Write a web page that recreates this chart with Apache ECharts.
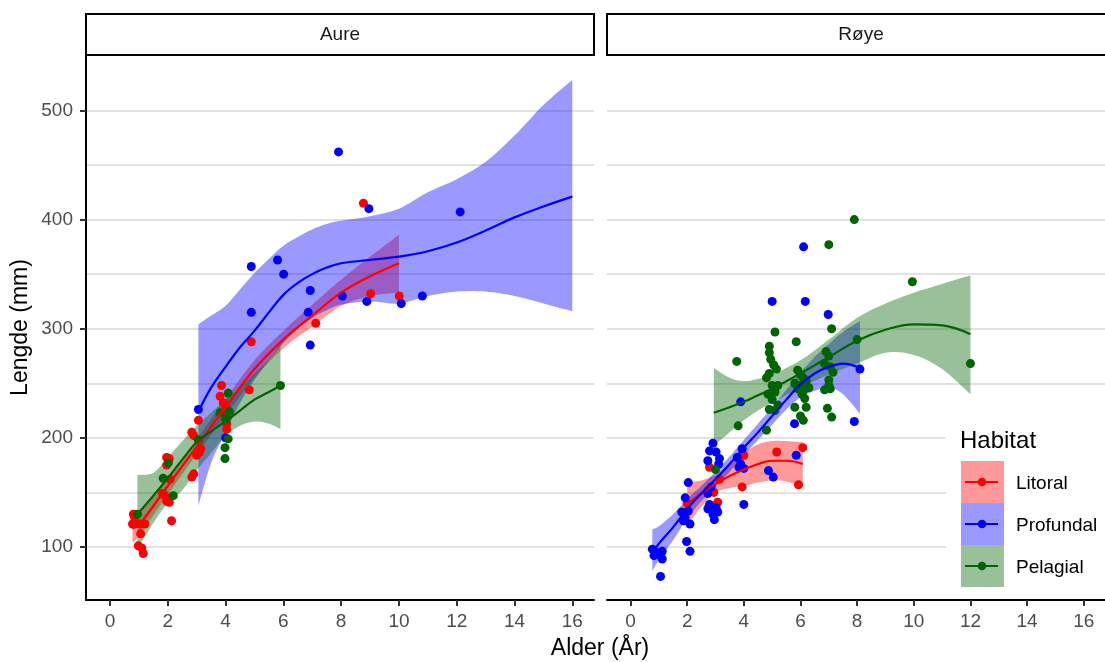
<!DOCTYPE html>
<html><head><meta charset="utf-8">
<script src="https://cdn.jsdelivr.net/npm/echarts@6/dist/echarts.min.js"></script>
<style>html,body{margin:0;padding:0;background:#fff}#c{width:1105px;height:662px}</style>
</head><body><div id="c"></div>
<script>
const panels = ['Aure', 'Røye'];
const habitats = ['Litoral', 'Profundal', 'Pelagial'];
const habitatColors = ['#FF0000', '#0000FF', '#006400'];
const xTicks = [0, 2, 4, 6, 8, 10, 12, 14, 16];
const yTicks = [100, 200, 300, 400, 500];
const yGridLines = [100, 150, 200, 250, 300, 350, 400, 450, 500];

// points [alder, lengde]
const aureLitoral = [[0.81,130],[0.85,127],[0.78,121],[1.04,121],[1.21,121],[1.06,112],[0.98,101],[1.1,99],[1.15,94],
  [1.96,182],[2.05,181],[1.96,175],[2.08,162],[1.82,149],[1.9,147],[1.96,142],[2.05,141],[2.13,124],
  [2.83,205],[2.9,202],[3.06,216],[3.14,190],[3.0,184],[3.1,187],[2.9,167],[2.83,164],
  [3.86,248],[3.81,238],[3.92,232],[4.0,230],[4.04,225],[4.04,219],[4.04,213],[4.04,208],
  [4.82,244],[4.89,288],[7.12,305],[8.77,415],[9.02,332],[10.01,330]];
const aureProfundal = [[3.06,226],[4.0,200],[4.89,357],[5.8,363],[6.01,350],[6.93,335],[4.89,315],[6.86,315],
  [6.93,285],[7.91,462],[8.04,330],[8.96,410],[8.89,325],[10.08,323],[10.81,330],[12.12,407]];
const aurePelagial = [[0.95,130],[1.84,163],[2.02,177],[2.19,147],[3.06,198],[3.81,223],[4.13,224],[4.01,217],
  [4.09,241],[4.09,199],[3.98,191],[3.98,181],[5.9,248]];
const royeLitoral = [[2.0,140],[2.79,173],[2.73,152],[2.94,150],[3.14,162],[3.08,141],[3.94,155],[4.0,184],
  [5.16,187],[5.93,157],[6.08,191]];
const royeProfundal = [[0.77,98],[0.94,95],[1.12,96],[0.83,92],[1.12,89],[1.0,93],[1.06,73],[1.98,105],[2.1,96],
  [1.81,132],[2.04,133],[1.93,127],[2.1,121],[1.87,124],[1.93,145],[2.04,159],[2.79,139],[3.02,136],[2.91,130],
  [3.08,132],[2.96,125],[2.73,135],[2.85,155],[2.73,149],[2.91,195],[2.79,188],[3.02,187],[2.73,179],[3.14,181],
  [3.11,176],[3.94,190],[3.77,182],[3.83,173],[4.0,172],[3.89,176],[3.89,233],[4.0,139],[4.87,170],[5.04,164],
  [5.0,325],[5.79,213],[5.85,184],[6.11,375],[6.17,325],[6.98,313],[7.9,215],[8.1,263]];
const royePelagial = [[3.0,171],[3.75,270],[3.8,211],[4.8,207],[4.8,255],[4.9,259],[4.9,284],[4.9,278],[4.95,272],
  [5.05,267],[5.15,263],[5.1,297],[5.0,248],[5.1,242],[4.85,240],[5.0,235],[5.2,230],[4.9,226],[5.1,225],[5.2,248],
  [5.85,288],[5.9,262],[6.0,258],[6.1,255],[5.8,250],[6.2,252],[6.0,248],[5.9,245],[6.1,243],[6.3,246],[6.05,240],
  [6.15,236],[5.8,228],[6.2,228],[6.0,220],[6.1,216],[6.9,279],[7.0,275],[6.85,268],[7.05,265],[7.15,260],
  [7.0,253],[7.0,248],[6.85,244],[7.05,245],[6.95,227],[7.1,219],[7.1,300],[7.0,377],[7.9,400],[8.0,290],
  [9.95,343],[12.0,268]];

// loess fits [alder, fit, lower, upper]
const aureLitoralFit = [[0.78,117,104,130],[1,120,110,131],[2,156,148,164],[3,192,185,199],[4,228,220,236],
  [5,263,255,271],[6,290,282,298],[7,312,302,322],[8,333,321,345],[9,348,330,366],[10,360,333,386]];
const aureProfundalFit = [[3.06,224,138,304],[3.5,246,177,312],[4,265,205,321],[4.5,283,232,336],[5,298,253,351],
  [5.5,315,271,364],[6,331,287,376],[6.5,342,300,384],[7,350,310,391],[7.5,356,317,396],[8,360,322,399],
  [9,363,325,403],[10,366,323,410],[11,371,330,425],[12,379,334,437],[13,390,334,453],[14,402,330,477],
  [15,412,323,505],[16,421,316,528]];
const aurePelagialFit = [[0.95,130,98,166],[1.5,147,122,168],[2,163,140,182],[2.5,180,152,197],[3,196,170,211],
  [3.5,206,186,223],[4,215,202,235],[4.5,225,211,246],[5,235,215,259],[5.5,242,213,272],[5.9,248,208,286]];
const royeLitoralFit = [[2,139,119,159],[2.5,149,137,161],[3,158,150,166],[3.5,165,154,175],[4,171,156,186],
  [4.5,176,159,194],[5,179,161,197],[5.5,179,160,197],[6.08,176,155,196]];
const royeProfundalFit = [[0.77,95,78,116],[1,103,88,119],[1.5,118,106,130],[2,135,126,144],[2.5,149,142,156],
  [3,162,155,169],[3.5,176,169,183],[4,191,184,198],[4.5,205,198,213],[5,220,212,228],[5.5,235,226,244],
  [6,249,237,260],[6.5,259,243,274],[7,265,246,286],[7.5,268,240,297],[8.1,264,222,307]];
const royePelagialFit = [[2.94,223,193,264],[3.5,228,205,255],[4,233,216,252],[4.5,239,225,254],[5,245,232,258],
  [6,259,246,271],[7,274,258,290],[8,289,268,310],[9,299,278,323],[10,304,276,333],[11,303,263,341],[12,295,240,349]];

const pointSets = [[aureLitoral, aureProfundal, aurePelagial], [royeLitoral, royeProfundal, royePelagial]];
const fitSets = [[aureLitoralFit, aureProfundalFit, aurePelagialFit], [royeLitoralFit, royeProfundalFit, royePelagialFit]];

const FONT = '"Liberation Sans", Arial, sans-serif';
const X_MIN = -0.83, X_MAX = 16.75, Y_MIN = 51.4, Y_MAX = 550.8;

const chart = echarts.init(document.getElementById('c'), null, {renderer: 'canvas'});

// Catmull-Rom subdivision of a pixel polyline (drawing only)
function smoothPath(pts) {
  const out = [];
  for (let i = 0; i < pts.length - 1; i++) {
    const p0 = pts[Math.max(0, i - 1)], p1 = pts[i], p2 = pts[i + 1], p3 = pts[Math.min(pts.length - 1, i + 2)];
    for (let s = 0; s < 8; s++) {
      const t = s / 8, t2 = t * t, t3 = t2 * t;
      out.push([0, 1].map(k => 0.5 * ((2 * p1[k]) + (-p0[k] + p2[k]) * t +
        (2 * p0[k] - 5 * p1[k] + 4 * p2[k] - p3[k]) * t2 + (-p0[k] + 3 * p1[k] - 3 * p2[k] + p3[k]) * t3)));
    }
  }
  out.push(pts[pts.length - 1]);
  return out;
}

function ribbon(fit, color, gi) {
  return {
    type: 'custom', xAxisIndex: gi, yAxisIndex: gi, z: 1, silent: true, animation: false,
    data: [[fit[0][0], fit[0][1]]],
    renderItem: function (params, api) {
      const up = smoothPath(fit.map(d => api.coord([d[0], d[3]])));
      const lo = smoothPath(fit.map(d => api.coord([d[0], d[2]]))).reverse();
      return {type: 'polygon', shape: {points: up.concat(lo)}, style: {fill: color, opacity: 0.4}};
    }
  };
}

const series = [];
for (let gi = 0; gi < 2; gi++) {
  series.push({
    type: 'scatter', xAxisIndex: gi, yAxisIndex: gi, data: [], silent: true,
    markLine: {
      z: 0, silent: true, animation: false, symbol: ['none', 'none'], label: {show: false},
      lineStyle: {color: '#d9d9d9', width: 1.5, type: 'solid'},
      data: yGridLines.map(v => ({yAxis: v}))
    }
  });
  for (let h = 0; h < 3; h++) series.push(ribbon(fitSets[gi][h], habitatColors[h], gi));
  for (let h = 0; h < 3; h++) series.push({
    type: 'scatter', xAxisIndex: gi, yAxisIndex: gi, z: 2, symbolSize: 9, animation: false,
    itemStyle: {color: habitatColors[h], opacity: 1}, data: pointSets[gi][h]
  });
  for (let h = 0; h < 3; h++) series.push({
    type: 'line', xAxisIndex: gi, yAxisIndex: gi, z: 3, smooth: 0.4, showSymbol: false, animation: false,
    lineStyle: {color: habitatColors[h], width: 2.2}, data: fitSets[gi][h].map(d => [d[0], d[1]])
  });
}

function xAxis(gi) {
  return {
    type: 'value', gridIndex: gi, min: X_MIN, max: X_MAX,
    axisLine: {show: true, onZero: false, lineStyle: {color: '#000', width: 2}},
    axisTick: {show: true, customValues: xTicks, length: 6, lineStyle: {color: '#333', width: 2}},
    axisLabel: {customValues: xTicks, fontSize: 19, color: '#4d4d4d', margin: 12, fontFamily: FONT},
    splitLine: {show: false}
  };
}
function yAxis(gi) {
  const shown = gi === 0;
  return {
    type: 'value', gridIndex: gi, min: Y_MIN, max: Y_MAX,
    axisLine: {show: shown, onZero: false, lineStyle: {color: '#000', width: 2}},
    axisTick: {show: shown, customValues: yTicks, length: 6, lineStyle: {color: '#333', width: 2}},
    axisLabel: {show: shown, customValues: yTicks, fontSize: 19, color: '#4d4d4d', margin: 13, fontFamily: FONT},
    splitLine: {show: false},
    name: shown ? 'Lengde (mm)' : '', nameLocation: 'middle', nameGap: 54,
    nameTextStyle: {fontSize: 23, color: '#000', fontFamily: FONT}
  };
}

const strips = panels.map((p, i) => {
  const x = i === 0 ? 86 : 607, w = i === 0 ? 508 : 510;
  return [
    {type: 'rect', z: 50, shape: {x: x, y: 14, width: w, height: 41}, style: {fill: '#fff', stroke: '#000', lineWidth: 2}},
    {type: 'text', z: 51, x: x + 254, y: 35, style: {text: p, fill: '#1a1a1a', font: '19px ' + FONT, textAlign: 'center', textVerticalAlign: 'middle'}}
  ];
}).flat();

const legendEls = [
  {type: 'rect', z: 60, shape: {x: 946, y: 418, width: 170, height: 180}, style: {fill: '#fff'}},
  {type: 'text', z: 61, x: 960, y: 441, style: {text: 'Habitat', fill: '#000', font: '24px ' + FONT, textVerticalAlign: 'middle'}}
];
habitats.forEach((h, i) => {
  const y0 = 461 + i * 42;
  legendEls.push(
    {type: 'rect', z: 61, shape: {x: 961, y: y0, width: 43, height: 42}, style: {fill: habitatColors[i], opacity: 0.4}},
    {type: 'line', z: 62, shape: {x1: 965, y1: y0 + 21, x2: 998, y2: y0 + 21}, style: {stroke: habitatColors[i], lineWidth: 2.2}},
    {type: 'circle', z: 63, shape: {cx: 982, cy: y0 + 21, r: 4.3}, style: {fill: habitatColors[i]}},
    {type: 'text', z: 62, x: 1016, y: y0 + 23, style: {text: h, fill: '#000', font: '19px ' + FONT, textVerticalAlign: 'middle'}}
  );
});

chart.setOption({
  animation: false,
  backgroundColor: '#fff',
  grid: [
    {left: 86, top: 55, width: 508, height: 545},
    {left: 607, top: 55, width: 508, height: 545}
  ],
  xAxis: [xAxis(0), xAxis(1)],
  yAxis: [yAxis(0), yAxis(1)],
  series: series,
  graphic: {elements: strips.concat(legendEls).concat([
    {type: 'text', z: 50, x: 600, y: 649, style: {text: 'Alder (År)', fill: '#000', font: '23px ' + FONT, textAlign: 'center', textVerticalAlign: 'middle'}}
  ])}
});
</script></body></html>
